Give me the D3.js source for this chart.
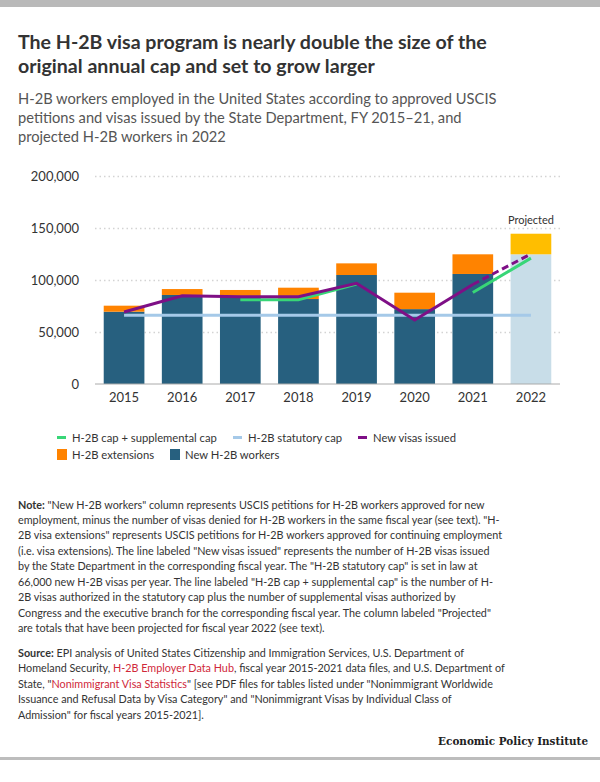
<!DOCTYPE html>
<html><head><meta charset="utf-8">
<script src="https://cdn.jsdelivr.net/npm/d3@7"></script>
<style>body{margin:0;background:#fff} svg{display:block}</style>
</head><body><svg id="c" width="600" height="782"></svg>
<script>
// ---------- DATA ----------
const years = ["2015","2016","2017","2018","2019","2020","2021","2022"];
const newWorkers   = [69500, 85600, 84000, 81700, 104800, 72000, 105800, null];
const extensions   = [5800, 5700, 6400, 10900, 11200, 15800, 18900, null];
const projectedNew = [null, null, null, null, null, null, null, 124700];
const projectedExt = [null, null, null, null, null, null, null, 19800];
const newVisas          = [69200, 84900, 84000, 84000, 96800, 61500, 95700, null];
const newVisasProjected = [null, null, null, null, null, null, 95700, 125000];
const suppCap      = [null, null, 81000, 81000, 96000, null, 88000, 121000];
const statutoryCap = [66000, 66000, 66000, 66000, 66000, 66000, 66000, 66000];
const yTicks = [0, 50000, 100000, 150000, 200000];

const titleLines = ["The H-2B visa program is nearly double the size of the",
                    "original annual cap and set to grow larger"];
const subtitleLines = ["H-2B workers employed in the United States according to approved USCIS",
                       "petitions and visas issued by the State Department, FY 2015\u201321, and",
                       "projected H-2B workers in 2022"];
const legendLabels = ["H-2B cap + supplemental cap", "H-2B statutory cap", "New visas issued",
                      "H-2B extensions", "New H-2B workers"];
const noteLines = [
 [["Note:",1],[" \"New H-2B workers\" column represents USCIS petitions for H-2B workers approved for new",0]],
 [["employment, minus the number of visas denied for H-2B workers in the same fiscal year (see text). \"H-",0]],
 [["2B visa extensions\" represents USCIS petitions for H-2B workers approved for continuing employment",0]],
 [["(i.e. visa extensions). The line labeled \"New visas issued\" represents the number of H-2B visas issued",0]],
 [["by the State Department in the corresponding fiscal year. The \"H-2B statutory cap\" is set in law at",0]],
 [["66,000 new H-2B visas per year. The line labeled \"H-2B cap + supplemental cap\" is the number of H-",0]],
 [["2B visas authorized in the statutory cap plus the number of supplemental visas authorized by",0]],
 [["Congress and the executive branch for the corresponding fiscal year. The column labeled \"Projected\"",0]],
 [["are totals that have been projected for fiscal year 2022 (see text).",0]]
];
const sourceLines = [
 [["Source:",1],[" EPI analysis of United States Citizenship and Immigration Services, U.S. Department of",0]],
 [["Homeland Security, ",0],["H-2B Employer Data Hub",2],[", fiscal year 2015-2021 data files, and U.S. Department of",0]],
 [["State, \"",0],["Nonimmigrant Visa Statistics",2],["\" [see PDF files for tables listed under \"Nonimmigrant Worldwide",0]],
 [["Issuance and Refusal Data by Visa Category\" and \"Nonimmigrant Visas by Individual Class of",0]],
 [["Admission\" for fiscal years 2015-2021].",0]]
];

// ---------- STYLE ----------
const C = {
  blue: "#27607f", orange: "#ff8300", yellow: "#ffbe00", projBlue: "#c8dde8",
  stat: "#a5c9e8", purple: "#7e0f86", green: "#38d677", text: "#333", sub: "#555", red: "#d0283a"
};
const FONT = "Lato, 'Open Sans', sans-serif";

const svg = d3.select("#c");
svg.append("rect").attr("x",0).attr("y",0).attr("width",600).attr("height",7).attr("fill","#b9b9b9");
svg.append("rect").attr("x",0).attr("y",757).attr("width",600).attr("height",3).attr("fill","#bdbdbd");

// Title
const tg = svg.append("g").attr("font-family", FONT).attr("font-weight", 700).attr("fill", C.text);
titleLines.forEach((t,i)=> tg.append("text").attr("x",18).attr("y",49 + i*24).text(t));
{ tg.attr("font-size",20); const w = tg.select("text").node().getComputedTextLength(); tg.attr("font-size", 20*469/w); }

// Subtitle
const sg = svg.append("g").attr("font-family", FONT).attr("fill", C.sub);
subtitleLines.forEach((t,i)=> sg.append("text").attr("x",18).attr("y",103.5 + i*19).text(t));
{ sg.attr("font-size",15); const w = sg.select("text").node().getComputedTextLength(); sg.attr("font-size", 15*479/w); }

// ---------- CHART ----------
const x = d3.scaleBand().domain(years).range([95, 560]).paddingInner(0.3).paddingOuter(0.15);
const y = d3.scaleLinear().domain([0, 200000]).range([384, 176]);
const cx = d => x(d) + x.bandwidth()/2;

// gridlines
const grid = svg.append("g").attr("transform","translate(95,0)")
  .call(d3.axisLeft(y).tickValues(yTicks.filter(v=>v>0)).tickSize(-465).tickFormat(""));
grid.select(".domain").remove();
grid.selectAll("line").attr("stroke","#d3d3d3").attr("stroke-width",1.5).attr("stroke-dasharray","1.5,3");

// y axis labels
const ya = svg.append("g").attr("transform","translate(79,0)")
  .call(d3.axisLeft(y).tickValues(yTicks).tickSize(0).tickPadding(0).tickFormat(d3.format(",")));
ya.select(".domain").remove();
ya.selectAll("text").attr("font-family", FONT).attr("font-size", 13).attr("fill", C.text);

// bars
const barData = years.map((yr,i)=>({yr, n:newWorkers[i], e:extensions[i], pn:projectedNew[i], pe:projectedExt[i]}));
const bars = svg.append("g");
barData.forEach(d=>{
  if (d.n != null){
    bars.append("rect").attr("x",x(d.yr)).attr("width",x.bandwidth())
      .attr("y",y(d.n)).attr("height",y(0)-y(d.n)).attr("fill",C.blue);
    bars.append("rect").attr("x",x(d.yr)).attr("width",x.bandwidth())
      .attr("y",y(d.n+d.e)).attr("height",y(d.n)-y(d.n+d.e)).attr("fill",C.orange);
  }
  if (d.pn != null){
    bars.append("rect").attr("x",x(d.yr)).attr("width",x.bandwidth())
      .attr("y",y(d.pn)).attr("height",y(0)-y(d.pn)).attr("fill",C.projBlue);
    bars.append("rect").attr("x",x(d.yr)).attr("width",x.bandwidth())
      .attr("y",y(d.pn+d.pe)).attr("height",y(d.pn)-y(d.pn+d.pe)).attr("fill",C.yellow);
  }
});

// baseline
svg.append("line").attr("x1",95).attr("x2",560).attr("y1",y(0)).attr("y2",y(0))
  .attr("stroke","#aaa").attr("stroke-width",1);

// x axis labels
const xa = svg.append("g").attr("transform",`translate(0,${y(0)})`)
  .call(d3.axisBottom(x).tickSize(0).tickPadding(18));
xa.select(".domain").remove();
xa.selectAll("text").attr("font-family", FONT).attr("font-size", 13).attr("fill", C.text).attr("dy","0");

// "Projected" label
svg.append("text").attr("x", cx("2022")).attr("y", 224).attr("text-anchor","middle")
  .attr("font-family", FONT).attr("font-size", 11).attr("fill", C.text).text("Projected");

// lines
const lineGen = arr => d3.line().defined(d=>arr[years.indexOf(d)]!=null)
  .x(d=>cx(d)).y(d=>y(arr[years.indexOf(d)]));

svg.append("path").datum(years).attr("d", lineGen(statutoryCap))
  .attr("fill","none").attr("stroke",C.stat).attr("stroke-width",3);
svg.append("path").datum(years).attr("d", lineGen(suppCap))
  .attr("fill","none").attr("stroke",C.green).attr("stroke-width",3);
svg.append("path").datum(years).attr("d", lineGen(newVisas))
  .attr("fill","none").attr("stroke",C.purple).attr("stroke-width",3);
svg.append("path").datum(years).attr("d", lineGen(newVisasProjected))
  .attr("fill","none").attr("stroke",C.purple).attr("stroke-width",3).attr("stroke-dasharray","7,4");

// ---------- LEGEND ----------
const lg = svg.append("g").attr("font-family", FONT).attr("font-size", 13).attr("fill", C.text);
const legendItems = [
  {label:legendLabels[0], color:C.green, type:"line", x:57, y:437.5},
  {label:legendLabels[1], color:C.stat, type:"line", x:233, y:437.5},
  {label:legendLabels[2], color:C.purple, type:"line", x:358, y:437.5},
  {label:legendLabels[3], color:C.orange, type:"box", x:57, y:454.5},
  {label:legendLabels[4], color:C.blue, type:"box", x:170, y:454.5}
];
legendItems.forEach(it=>{
  if (it.type==="line") lg.append("rect").attr("x",it.x).attr("y",it.y-1.5).attr("width",9).attr("height",3).attr("fill",it.color);
  else lg.append("rect").attr("x",it.x).attr("y",it.y-5.5).attr("width",10).attr("height",11).attr("fill",it.color);
  lg.append("text").attr("x",it.x+15).attr("y",it.y+4.5).text(it.label);
});
{ const w = lg.select("text").node().getComputedTextLength(); lg.attr("font-size", 13*145/w); }

// ---------- NOTES ----------
function block(lines, y0, step){
  const g = svg.append("g").attr("font-family", FONT).attr("fill", C.text);
  lines.forEach((segs,i)=>{
    const t = g.append("text").attr("x",18).attr("y",y0+i*step).attr("xml:space","preserve");
    segs.forEach(([s,k])=>{
      const ts = t.append("tspan").text(s);
      if (k===1) ts.attr("font-weight",700);
      if (k===2) ts.attr("fill",C.red);
    });
  });
  return g;
}
const ng = block(noteLines, 508.5, 15.45);
const srg = block(sourceLines, 656.5, 15.5);
{ srg.attr("font-size",12.5); const w = srg.selectAll("text").nodes()[1].getComputedTextLength();
  const fs = 12.5*487/w; srg.attr("font-size",fs); ng.attr("font-size",fs); }

// footer
const ft = svg.append("text").attr("x",588).attr("y",744.5).attr("text-anchor","end")
  .attr("font-family","'DejaVu Serif', 'Liberation Serif', serif").attr("font-weight",700)
  .attr("font-size",13).attr("fill","#222").text("Economic Policy Institute");
{ const w = ft.node().getComputedTextLength(); ft.attr("font-size", 13*150/w); }
</script></body></html>
